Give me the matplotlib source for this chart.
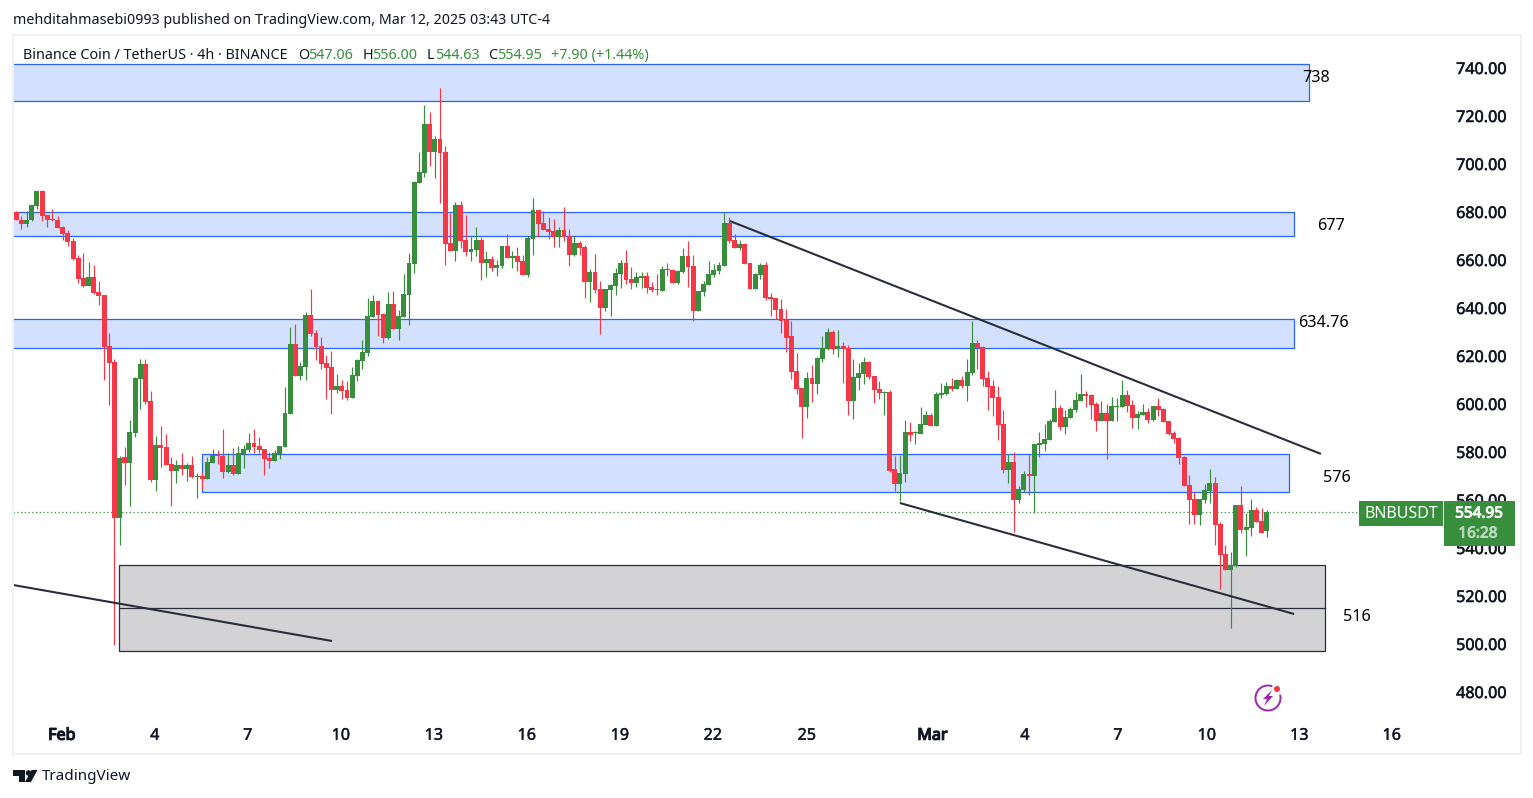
import matplotlib
matplotlib.use('Agg')
import matplotlib.pyplot as plt
import matplotlib.patheffects as pe
from matplotlib.patches import Rectangle, Polygon, Circle, Arc
from matplotlib.transforms import IdentityTransform

plt.rcParams['font.family'] = ['Noto Sans', 'DejaVu Sans']

# 4h candles
opens = [679.9,676.8,675.1,676.7,682.6,688.8,678.8,676.9,676.7,673.7,
    671.2,667.9,660.8,652.5,649.3,652.9,646.7,645.4,624.2,617.5,
    552.6,577.9,575.4,587.9,610.4,616.7,601.2,568.3,582.9,582.1,
    575,572.1,574.6,572.9,574.6,569.6,570,568.8,575.4,578.8,
    578.3,571.7,574.6,570.8,579.2,580.8,583.8,582.5,581.3,577.5,
    576.3,579.2,582.1,595.8,625,611.7,615.4,637.1,629.6,624.2,
    617.1,615.4,605.8,607.5,605.8,602.5,611.7,617.9,621.3,636.3,
    642.9,637.5,627.5,641.7,631.3,636.3,645.4,658.3,692.1,696.3,
    716.7,705,710.4,705,667.1,663.8,682.9,668.3,663.3,664.2,
    668.3,658.8,660.4,656.7,657.5,665.8,660.8,661.7,659.6,653.8,
    668.8,680.8,675.4,672.9,672.1,669.6,672.5,670,662.1,667.1,
    665.4,650.8,655,647.9,640,647.5,649.2,654.2,658.8,652.1,
    650.4,652.5,653.3,648.8,647.9,647.1,656.3,655.8,650.4,655,
    661.7,657.5,638.8,646.7,649.6,653.8,655.4,657.5,675.4,668.3,
    665,666.7,658.8,647.9,653.8,657.9,644.6,644.2,639.6,635,
    628.3,613.8,606.7,598.8,610.8,608.3,618.8,622.9,630,622.9,
    624.2,623.3,601.3,610.8,612.5,617.5,611.7,606.3,604.6,605,
    572.9,566.7,570.8,588.3,587.8,587.5,591.2,595.4,590.8,603.8,
    604.2,607.5,606.3,610,607.5,612.9,625.4,623.8,610.8,607.5,
    603,591.7,572.5,575.8,560,564.2,570.8,570,582.9,583.3,
    585,592.5,598.3,590.4,594.2,597.5,601.3,604.2,603.8,600,
    592.9,596.3,592.9,598.8,598.8,603.8,599.6,594.2,595.4,596.7,
    593.3,599.2,597.9,592.9,587.9,585.8,577.9,566.3,560.4,553.8,
    560,563.8,567.1,550,537.5,530.8,532.5,557.9,547.5,548.3,
    555.8,551.3,547.06]
closes = [676.8,675.1,676.8,682.9,688.8,678.5,676.8,676.5,673.5,671,
    667.6,660.4,652.2,649.3,652.9,646.3,645.1,623.9,617.2,552.6,
    577.5,575.4,588.3,610.8,616.7,600.8,568.3,582.9,581.7,574.6,
    572.1,574.6,572.9,574.6,569.6,570,568.8,575.8,578.8,578.4,
    571.7,574.6,570.8,579.6,581.3,583.8,582.1,580.8,577.1,576.3,
    579.6,582.5,596.3,625,611.7,615.8,637.1,629.2,623.8,616.7,
    615,605.8,607.5,605.4,602.5,612.1,618.3,621.7,636.7,642.9,
    637.1,627.5,641.7,631.3,636.7,645.8,658.8,692.5,696.7,716.7,
    705,710.4,704.6,666.7,663.8,682.9,667.9,663.3,664.6,668.3,
    658.8,660.4,656.7,657.9,665.8,660.8,661.7,659.2,653.8,669.2,
    680.8,675,672.5,671.7,669.6,672.5,669.6,662.1,667.1,665,
    650.8,655,647.5,640,647.9,649.6,654.6,658.8,651.7,650.4,
    652.9,653.3,648.3,647.5,647.5,656.3,655.8,650.4,655.4,661.7,
    657.1,638.8,647.1,650,654.2,655.8,657.9,675.4,667.9,665,
    666.7,658.3,647.9,654.2,657.9,644.2,643.8,639.2,634.6,627.5,
    613.3,606.3,598.8,610.8,608.3,619.2,623.3,630,622.9,624.2,
    622.9,601.3,611.3,612.9,617.5,611.3,605.8,604.6,605,572.1,
    566.7,571.3,588.3,587.1,588,591.7,595.4,590.8,604.2,604.6,
    607.5,606.3,610,607.5,613.3,625.4,623.3,610.4,607.1,602.5,
    591.3,572.5,575.8,560,564.6,570.8,570,583.3,583.8,585.4,
    592.9,598.3,590.4,594.6,597.9,601.7,604.2,603.3,599.6,592.9,
    596.3,592.9,599.2,599.2,603.8,599.2,594.2,595.8,596.7,593.3,
    599.2,597.5,592.5,587.5,585.4,577.5,565.8,560,553.8,560.4,
    564.2,567.1,549.6,537.1,530.8,532.9,557.9,547.5,548.75,555.8,
    550.8,546.3,554.95]
highs = [680.4,678.3,680.3,682.9,688.8,689.2,678.8,681.2,678.3,674.2,
    672.5,669.2,662.1,662.9,659.2,657.9,651.3,645.4,629.6,618.8,
    578.3,582.1,593.3,611.2,618.8,618.8,605.4,586.7,590.8,587.5,
    577.9,576.7,579.6,575.4,578.3,571.2,571.7,577.9,581.3,580.8,
    589.6,579.6,581.7,582.5,582.9,587.9,589.6,586.3,581.3,580,
    580.8,582.5,607.1,632.1,633.3,617.5,638.3,647.9,630.8,627.9,
    620.4,622.1,612.5,610,609.6,615.4,618.8,626.7,644.2,645.4,
    643.3,637.5,646.7,647.1,639.2,654.2,662.9,692.9,705,724.6,
    721.7,711.7,731.7,707.5,679.6,684.2,684.6,678.8,669.6,673.8,
    669.6,663.8,661.7,660,665.8,670.8,663.8,665.4,662.1,670,
    685.8,680.8,680.4,677.9,677.1,673.8,682.1,672.9,670,667.9,
    666.3,656.3,662.5,651.3,647.9,650,656.7,660,664.2,657.1,
    655,655,655,650.8,654.2,657.5,658.8,656.3,655.8,665,
    667.9,662.1,647.1,651.3,659.6,658.3,659.2,679.9,677.9,670.8,
    668.3,667.1,658.8,654.6,658.8,659.2,646.3,644.2,643.8,639.6,
    634.6,621.3,606.7,613.3,616.3,619.6,628.3,631.7,630.8,630.8,
    625.8,624.6,618.8,617.1,619.6,617.9,611.7,609.6,605.5,605.8,
    578.3,578.8,593.3,592.5,588.8,598.8,597.1,596.3,605,608.8,
    609.2,610.8,610.4,611.7,618.8,634.6,626.7,624.2,613.8,610,
    607.5,597.5,579.2,580,565.8,572.1,579.2,583.3,588.3,591.7,
    593.8,605.8,599.6,597.5,598.8,605,612.5,605.4,604.2,600.8,
    601.3,600,602.9,602.5,610,605.8,601.7,597.1,600,598.3,
    599.2,602.5,598.3,592.9,588.8,586.3,578.3,570.4,563.3,560.4,
    566.7,572.9,569.6,550.8,541.3,538.3,557.9,565.8,554.6,560.4,
    557.1,556.7,556]
lows = [676.8,672.9,673.9,676.3,681.4,676.4,673.9,676.2,673.5,668.5,
    666,660,650.6,648.9,649.3,646,641.4,610,599.6,499.6,
    541.3,566.3,557.5,586.3,597.9,600,567.5,563.8,573.8,574.6,
    557.5,567.1,570.4,567.9,569.2,560.8,564.6,568.8,575.4,575,
    569.2,571.3,570.4,570.8,573.3,580,579.6,579.6,570.4,573.3,
    576.3,577.1,582.1,595.8,611.7,610,610,628.3,618.3,614.6,
    602.1,595.8,604.6,602.1,601.7,602.5,609.6,614.6,620,636.3,
    628.3,625.4,627.1,631.3,626.7,636.3,632.9,654.6,692.1,694.6,
    699.2,694.2,683.8,657.9,663.8,659.6,665,661.7,659.6,661.7,
    651.7,652.9,655.4,653.3,656.7,660.8,656.7,655.4,653.8,652.9,
    662.1,669.6,672.5,668.8,665.4,665.4,667.9,657.5,661.7,662.1,
    644.2,642.5,646.3,629.2,638.8,636.7,645.4,648.3,650,647.9,
    648.8,648.3,646.3,646.7,645.4,647.1,653.3,650.4,650,654.6,
    648.8,634.6,638.8,645,649.6,652.9,654.2,657.5,667.1,665,
    664.2,658.3,647.9,647.9,652.1,643.3,636.7,635.4,629.6,621.7,
    610.4,604.2,585.8,594.2,600.8,604.2,617.5,622.5,620.8,619.6,
    608.8,595.4,593.8,605.8,608.3,610.4,600.4,602.1,595.4,571.7,
    563.8,559.6,567.5,584.6,583.3,587.5,591.2,590.8,590.8,602.5,
    603.8,605.4,606.3,606.7,601.3,612.1,614.6,607.5,597.5,595,
    585,571.3,567.1,546.7,558.8,563.3,562.1,554.6,578,580.4,
    585,592.5,589.2,587.5,594.2,596.7,601.3,598.8,593.8,588.8,
    592.9,577.1,592.9,592.9,598.8,596.7,590,589.6,595.4,592.1,
    592.9,595,592.5,587.1,583.8,575,565.8,550,550,549.6,
    558.8,558.8,541.3,522.9,530.8,506.7,532.1,546.3,536.7,545,
    550.8,546.3,544.63]

price_ticks = [480,500,520,540,560,580,600,620,640,660,680,700,720,740]
date_ticks = [8.8,26.8,44.8,62.8,80.8,98.8,116.8,134.8,153,177.3,195.2,213.2,230.4,248.3,266.2]
date_labels = ['Feb','4','7','10','13','16','19','22','25','Mar','4','7','10','13','16']

# blue zones: left candle, right candle, top price, bottom price
zone_left = [-2,-2,-2,35.9]
zone_right = [250.2,247.3,247.3,246.3]
zone_top = [741.67,680,635.4,579.2]
zone_bottom = [726.25,670,623.3,563.3]

# gray zone
gray_box = [19.9,253.3,532.9,497.1]
gray_mid = 514.8

# trend lines
line_x = [[138.1,252.5],[171,247.3],[-0.64,61.1]]
line_y = [[676.25,579.2],[558.75,512.5],[524.6,501.25]]

last_price = 554.95
GREEN = '#388e3c'
RED = '#f63748'
DARK = '#131722'
W, H = 1533, 798

def fx(px):
    return px / W
def fy(py):
    return 1 - py / H

fig = plt.figure(figsize=(W / 100, H / 100), dpi=100, facecolor='white')
ax = fig.add_axes([fx(13), fy(718), fx(1445 - 13), (718 - 36) / H])
ax.set_facecolor('none')
ax.set_xlim((13 - 16.3) / 5.167, (1445 - 16.3) / 5.167)
ax.set_ylim(469.17, 753.33)
for s in ax.spines.values():
    s.set_visible(False)

# zones go behind the candles
for l, r, t, b in zip(zone_left, zone_right, zone_top, zone_bottom):
    ax.add_patch(Rectangle((l, b), r - l, t - b, facecolor='#d3e0fe', edgecolor='#2962ff', lw=0.9, zorder=1))
ax.add_patch(Rectangle((gray_box[0], gray_box[3]), gray_box[1] - gray_box[0], gray_box[2] - gray_box[3],
                       facecolor='#d3d3d6', edgecolor='#2a2e39', lw=0.9, zorder=1))
ax.plot([gray_box[0], gray_box[1]], [gray_mid, gray_mid], color='#2a2e39', lw=0.9, zorder=1.1)

# dotted last price line
ax.plot([-0.64, (1360 - 16.3) / 5.167], [last_price, last_price], color=GREEN, lw=0.9, ls=(0, (1, 2)), zorder=1.5)

# candles
for i in range(len(opens)):
    c = GREEN if closes[i] >= opens[i] else RED
    ax.vlines(i, lows[i], highs[i], color=c, lw=0.85, zorder=2)
    ax.bar(i, max(abs(closes[i] - opens[i]), 0.5), bottom=min(opens[i], closes[i]), width=0.96, color=c, lw=0, zorder=2)

for xs, ys in zip(line_x, line_y):
    ax.plot(xs, ys, color='#2a2e39', lw=1.5, zorder=3, solid_capstyle='butt')

# axis labels
ax.yaxis.tick_right()
ax.set_yticks(price_ticks)
ax.set_yticklabels(['%.2f' % p for p in price_ticks], fontsize=11.6, color=DARK)
ax.set_xticks(date_ticks)
ax.set_xticklabels(date_labels, fontsize=11.6, color=DARK)
ax.tick_params(axis='y', length=0, pad=8)
ax.tick_params(axis='x', length=0, pad=7)
fig.canvas.draw()
# this font has no real bold here, so thicken with a thin stroke
for lab in ax.get_yticklabels():
    lab.set_path_effects([pe.withStroke(linewidth=0.4, foreground=DARK)])
for lab in ax.get_xticklabels():
    w = 0.9 if lab.get_text() in ('Feb', 'Mar') else 0.3
    lab.set_path_effects([pe.withStroke(linewidth=w, foreground=DARK)])

# chart frame
fig.add_artist(Rectangle((fx(12.5), fy(753.5)), fx(1508), 719 / H, transform=fig.transFigure, fill=False,
                         edgecolor='#f0f1f4', lw=1.5, zorder=0.5))

# level labels
level_text = ['738', '677', '634.76', '576', '516']
level_px = [(1316, 78), (1331, 226), (1323, 323), (1337, 478), (1357, 617)]
for t, (x, y) in zip(level_text, level_px):
    fig.text(fx(x), fy(y), t, fontsize=11.7, color='black', ha='center', va='center')

# header
fig.text(fx(13), fy(20.5), 'mehditahmasebi0993 published on TradingView.com, Mar 12, 2025 03:43 UTC-4',
         fontsize=10.25, color=DARK, va='center')
legend_parts = [('Binance Coin / TetherUS · 4h · BINANCE', 23, DARK), ('O', 298, DARK), ('547.06', 308, GREEN),
                ('H', 363, DARK), ('556.00', 372, GREEN), ('L', 427, DARK), ('544.63', 435, GREEN),
                ('C', 488, DARK), ('554.95', 497, GREEN), ('+7.90 (+1.44%)', 551, GREEN)]
for t, x, c in legend_parts:
    fig.text(fx(x), fy(55.5), t, fontsize=10.35, color=c, va='center')

# price tags over the axis
fig.add_artist(Rectangle((fx(1359), fy(526)), 84 / W, 25 / H, transform=fig.transFigure, color=GREEN, lw=0, zorder=2))
fig.add_artist(Rectangle((fx(1444), fy(546)), 71 / W, 45 / H, transform=fig.transFigure, color=GREEN, lw=0, zorder=2))
fig.text(fx(1401), fy(514), 'BNBUSDT', fontsize=11.5, color='white', ha='center', va='center', zorder=3)
fig.text(fx(1479), fy(514), '%.2f' % last_price, fontsize=11, color='white', ha='center', va='center', zorder=3,
         path_effects=[pe.withStroke(linewidth=0.7, foreground='white')])
fig.text(fx(1478), fy(534), '16:28', fontsize=11, color='#b9d8bb', ha='center', va='center', zorder=3,
         path_effects=[pe.withStroke(linewidth=0.7, foreground='#b9d8bb')])

# lightning icon, drawn in display pixels
tr = IdentityTransform()
def d(x, y):
    return (x, H - y)
fig.add_artist(Arc(d(1268, 698), 25, 25, theta1=70, theta2=15, transform=tr, color='#9c27b0', lw=1.4, zorder=2))
fig.add_artist(Polygon([d(1272, 690), d(1263, 699), d(1267, 699), d(1264, 706), d(1273, 696), d(1269, 696)],
                       transform=tr, color='#9c27b0', lw=0, zorder=2))
fig.add_artist(Circle(d(1277, 689), 3, transform=tr, color='#f23645', lw=0, zorder=2))

# TradingView logo
fig.add_artist(Polygon([d(13, 770), d(24.5, 770), d(24.5, 782), d(18.5, 782), d(18.5, 776), d(13, 776)],
                       transform=tr, color=DARK, lw=0))
fig.add_artist(Circle(d(28.5, 773), 2.8, transform=tr, color=DARK, lw=0))
fig.add_artist(Polygon([d(31.5, 770), d(37.5, 770), d(31, 782), d(25, 782)], transform=tr, color=DARK, lw=0))
fig.text(fx(42), fy(777), 'TradingView', fontsize=11, color=DARK, va='center')

fig.savefig('out.png', dpi=100)
